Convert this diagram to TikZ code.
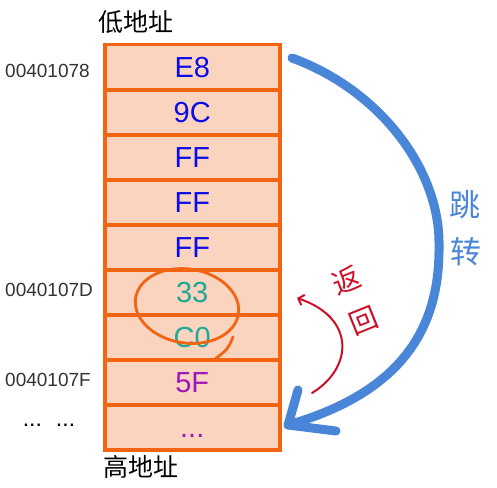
\documentclass[tikz,border=0pt]{standalone}
\usepackage{fontspec}
\setmainfont{Liberation Sans}
\newfontfamily\cjk{Noto Sans CJK SC}
\usetikzlibrary{arrows.meta,shapes.geometric}
\definecolor{orangeline}{RGB}{242,100,18}
\definecolor{peach}{RGB}{250,212,190}
\definecolor{hexblue}{RGB}{12,12,230}
\definecolor{hexteal}{RGB}{30,170,150}
\definecolor{hexpurple}{RGB}{160,20,190}
\definecolor{arcblue}{RGB}{74,134,216}
\definecolor{retred}{RGB}{205,15,40}
\begin{document}
\begin{tikzpicture}[x=1pt,y=-1pt,
  cell/.style={draw=orangeline, fill=peach, line width=3.5pt, minimum width=175pt,
    minimum height=45pt, inner sep=0pt, anchor=north west, text height=21pt, text depth=0pt,
    font=\fontsize{29}{29}\selectfont},
  addr/.style={anchor=west, inner sep=0pt, text=black!80, font=\fontsize{19}{19}\selectfont},
  cjklabel/.style={inner sep=0pt, font=\cjk\fontsize{25}{25}\selectfont},
  jumpline/.style={draw=arcblue, line width=9pt, line cap=round, line join=round},
  retline/.style={draw=retred, line width=2pt, line cap=round, -{Straight Barb[length=5pt,width=11pt]}},
  circline/.style={draw=orangeline, line width=2.8pt}]
\useasboundingbox (0,0) rectangle (497,487);
% memory cells
\node[cell, text=hexblue]   (c1) at (103,43)  {E8};
\node[cell, text=hexblue]   (c2) at (103,88)  {9C};
\node[cell, text=hexblue]   (c3) at (103,133) {FF};
\node[cell, text=hexblue]   (c4) at (103,178) {FF};
\node[cell, text=hexblue]   (c5) at (103,223) {FF};
\node[cell, text=hexteal]   (c6) at (103,268) {33};
\node[cell, text=hexteal]   (c7) at (103,313) {C0};
\node[cell, text=hexpurple] (c8) at (103,358) {5F};
\node[cell, text=hexpurple] (c9) at (103,403) {...};
% labels
\node[cjklabel] (low)  at (136,22)  {低地址};
\node[cjklabel] (high) at (141,467) {高地址};
\node[addr] (a1) at (5,71)  {00401078};
\node[addr] (a2) at (5,290) {0040107D};
\node[addr] (a3) at (5,380) {0040107F};
\node[inner sep=0pt, font=\fontsize{23}{23}\selectfont] (dots) at (49,425) {...\hspace{14pt}...};
% circle around 33 C0
\node[ellipse, circline, minimum width=104pt, minimum height=74pt, rotate=-9] (loop) at (187,306) {};
\coordinate (tailA) at (233,337);
\coordinate (tailB) at (214,360);
\draw[circline, line cap=round] (tailA) .. controls (228,349) .. (tailB);
% jump arc
\coordinate (jstart) at (292,58);
\coordinate (jend) at (288,425);
\coordinate (armA) at (298,390);
\coordinate (armB) at (336,431);
\draw[jumpline] (jstart) .. controls (380,90) and (440,170) .. (439,245)
  .. controls (440,320) and (410,390) .. (jend);
\draw[jumpline] (armA) -- (jend) -- (armB);
\node[inner sep=0pt, text=arcblue, font=\cjk\fontsize{31}{31}\selectfont] (tiao) at (465,205) {跳};
\node[inner sep=0pt, text=arcblue, font=\cjk\fontsize{31}{31}\selectfont] (zhuan) at (466,252) {转};
% return arc
\coordinate (rstart) at (312,393);
\coordinate (rend) at (297,298);
\draw[retline] (rstart) .. controls (353,368) and (356,318) .. (rend);
\node[inner sep=0pt, text=retred, rotate=22, font=\cjk\fontsize{28}{28}\selectfont] (fan) at (346,280) {返};
\node[inner sep=0pt, text=retred, rotate=22, font=\cjk\fontsize{28}{28}\selectfont] (hui) at (364,321) {回};
\end{tikzpicture}
\end{document}
